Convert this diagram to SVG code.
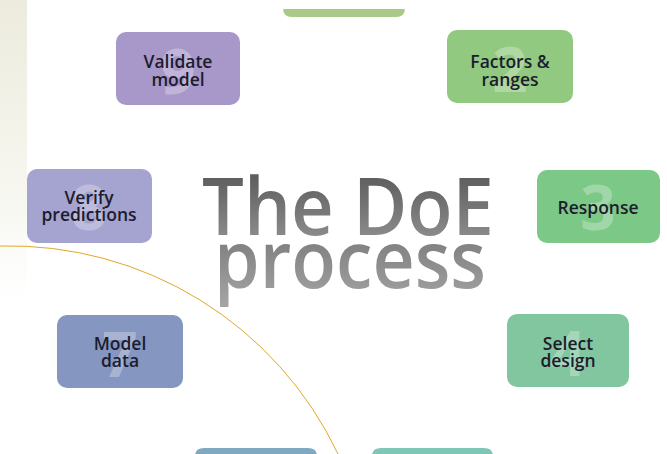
<svg xmlns="http://www.w3.org/2000/svg" width="667" height="454" viewBox="0 0 667 454">
<defs>
<linearGradient id="band" x1="0" y1="0" x2="0" y2="1">
<stop offset="0" stop-color="#ecebdd"/>
<stop offset="0.6" stop-color="#f6f6ef"/>
<stop offset="1" stop-color="#ffffff"/>
</linearGradient>
<linearGradient id="title" x1="0" y1="0" x2="0" y2="1">
<stop offset="0" stop-color="#4a4a4a"/>
<stop offset="1" stop-color="#9a9a9a"/>
</linearGradient>
<linearGradient id="title2" x1="0" y1="0" x2="0" y2="1">
<stop offset="0" stop-color="#6a6a6a"/>
<stop offset="1" stop-color="#a8a8a8"/>
</linearGradient>
</defs>
<style>
.box{stroke:none}
.lbl{font-family:"Open Sans","Liberation Sans",sans-serif;font-weight:600;font-size:17.5px;fill:#1c1c2e;text-anchor:middle}
.num{font-family:"Open Sans","Liberation Sans",sans-serif;font-weight:700;font-size:62px;fill:#ffffff;fill-opacity:0.28;text-anchor:middle}
.ttl{font-family:"Open Sans","Liberation Sans",sans-serif;font-weight:600;font-size:80px;text-anchor:middle}
</style>
<rect x="0" y="0" width="667" height="454" fill="#ffffff"/>
<rect x="0" y="0" width="27" height="300" fill="url(#band)"/>

<g id="node1">
<path class="box" d="M283 9 H405 V8 Q405 17 396 17 H292 Q283 17 283 8 Z" fill="#a9c987"/>
</g>

<g id="node2">
<rect class="box" x="447" y="30" width="126" height="73" rx="10" fill="#90c97f"/>
<text class="num" x="510" y="92">2</text>
<text class="lbl" x="510" y="68">Factors &amp;</text>
<text class="lbl" x="510" y="86">ranges</text>
</g>

<g id="node3">
<rect class="box" x="537" y="170" width="123" height="73" rx="10" fill="#7cc887"/>
<text class="num" x="598" y="230">3</text>
<text class="lbl" x="598" y="214">Response</text>
</g>

<g id="node4">
<rect class="box" x="507" y="314" width="122" height="73" rx="10" fill="#82c69f"/>
<text class="num" x="568" y="376">4</text>
<text class="lbl" x="568" y="350">Select</text>
<text class="lbl" x="568" y="367">design</text>
</g>

<g id="node5">
<path class="box" d="M372 458 V456 Q372 448 381 448 H484 Q493 448 493 456 V458 Z" fill="#7ec6b5"/>
</g>

<g id="node6">
<path class="box" d="M195 458 V456 Q195 448 204 448 H308 Q317 448 317 456 V458 Z" fill="#7fa9c0"/>
</g>

<g id="node7">
<rect class="box" x="57" y="315" width="126" height="73" rx="10" fill="#8596c0"/>
<text class="num" x="120" y="377">7</text>
<text class="lbl" x="120" y="350">Model</text>
<text class="lbl" x="120" y="367">data</text>
</g>

<g id="node8">
<rect class="box" x="27" y="169" width="125" height="74" rx="10" fill="#a5a3d0"/>
<text class="num" x="89" y="230">8</text>
<text class="lbl" x="89" y="204">Verify</text>
<text class="lbl" x="89" y="221">predictions</text>
</g>

<g id="node9">
<rect class="box" x="116" y="32" width="124" height="73" rx="10" fill="#a898c9"/>
<text class="num" x="178" y="94">9</text>
<text class="lbl" x="178" y="68">Validate</text>
<text class="lbl" x="178" y="86">model</text>
</g>

<g id="title-text">
<text class="ttl" x="348" y="235" fill="url(#title)" textLength="292" lengthAdjust="spacingAndGlyphs">The DoE</text>
<text class="ttl" x="350" y="288" fill="url(#title2)" textLength="272" lengthAdjust="spacingAndGlyphs">process</text>
</g>

<g id="connectors">
<path d="M0 246 A364 364 0 0 1 338 454" fill="none" stroke="#e0a82a" stroke-width="1"/>
</g>
</svg>
